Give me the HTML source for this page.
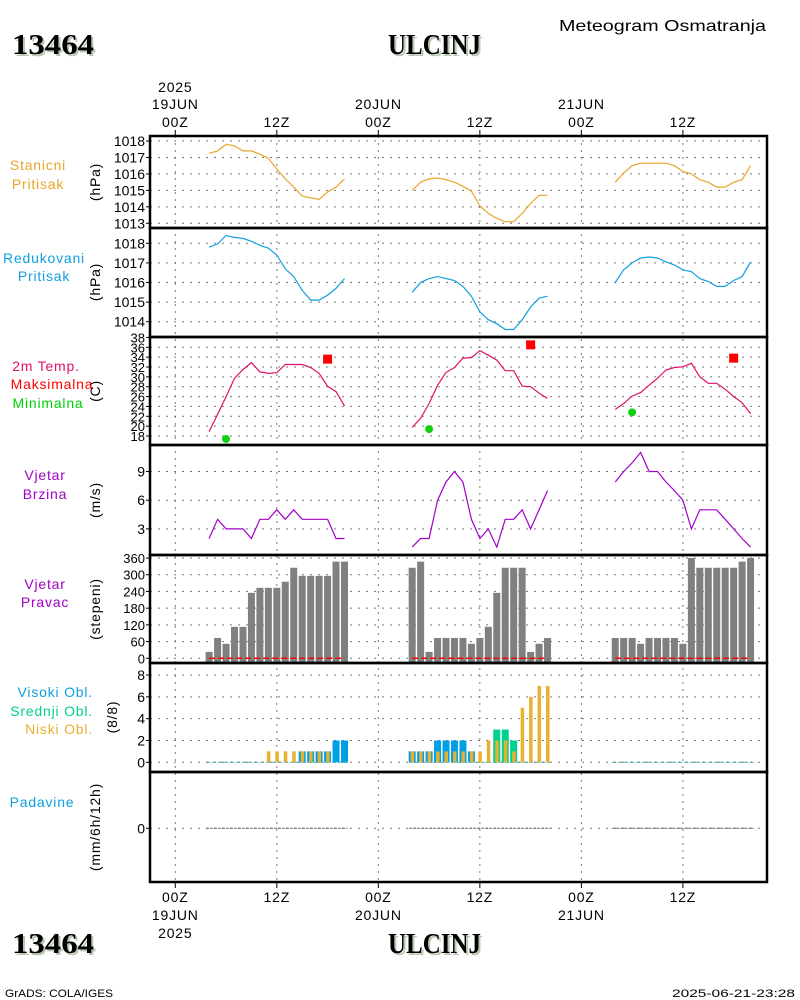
<!DOCTYPE html>
<html><head><meta charset="utf-8"><style>
html,body{margin:0;padding:0;background:#fff;}
svg{display:block;font-family:"Liberation Sans",sans-serif;}
.t{font-size:14px;}
.sm{font-size:12px;}
.big{font-family:"Liberation Serif",serif;font-weight:bold;font-size:29px;fill:#000;}
.lab{letter-spacing:0.8px;}
</style></head><body>
<svg id="c" width="800" height="1000" viewBox="0 0 800 1000" xmlns="http://www.w3.org/2000/svg">
<g>
<text x="559" y="31" class="t" textLength="207" lengthAdjust="spacingAndGlyphs" style="font-size:16px">Meteogram Osmatranja</text>
<text x="14" y="56" class="big" textLength="82" lengthAdjust="spacingAndGlyphs" style="fill:#b8c8b0">13464</text>
<text x="12" y="54" class="big" textLength="82" lengthAdjust="spacingAndGlyphs">13464</text>
<text x="390" y="56" class="big" textLength="93" lengthAdjust="spacingAndGlyphs" style="fill:#b8c8b0">ULCINJ</text>
<text x="388" y="54" class="big" textLength="93" lengthAdjust="spacingAndGlyphs">ULCINJ</text>
<text x="14" y="955" class="big" textLength="82" lengthAdjust="spacingAndGlyphs" style="fill:#b8c8b0">13464</text>
<text x="12" y="953" class="big" textLength="82" lengthAdjust="spacingAndGlyphs">13464</text>
<text x="390" y="955" class="big" textLength="93" lengthAdjust="spacingAndGlyphs" style="fill:#b8c8b0">ULCINJ</text>
<text x="388" y="953" class="big" textLength="93" lengthAdjust="spacingAndGlyphs">ULCINJ</text>
<text x="5" y="997" class="sm" textLength="108" lengthAdjust="spacingAndGlyphs" style="font-size:11px">GrADS: COLA/IGES</text>
<text x="672" y="997" class="sm" textLength="123" lengthAdjust="spacingAndGlyphs" style="font-size:11px">2025-06-21-23:28</text>
</g>
<g id="labels">
<text x="38" y="170" class="t lab" fill="#e8a52a" text-anchor="middle">Stanicni</text>
<text x="38" y="189" class="t lab" fill="#e8a52a" text-anchor="middle">Pritisak</text>
<text x="44" y="263" class="t lab" fill="#10a0e0" text-anchor="middle">Redukovani</text>
<text x="44" y="281" class="t lab" fill="#10a0e0" text-anchor="middle">Pritisak</text>
<text x="46" y="371" class="t lab" fill="#e0106a" text-anchor="middle">2m Temp.</text>
<text x="52" y="389" class="t lab" fill="#ff0000" text-anchor="middle">Maksimalna</text>
<text x="48" y="408" class="t lab" fill="#00d000" text-anchor="middle">Minimalna</text>
<text x="45" y="480" class="t lab" fill="#a000c8" text-anchor="middle">Vjetar</text>
<text x="45" y="499" class="t lab" fill="#a000c8" text-anchor="middle">Brzina</text>
<text x="45" y="589" class="t lab" fill="#a000c8" text-anchor="middle">Vjetar</text>
<text x="45" y="607" class="t lab" fill="#a000c8" text-anchor="middle">Pravac</text>
<text x="93" y="697" class="t lab" fill="#10a0e0" text-anchor="end">Visoki Obl.</text>
<text x="93" y="716" class="t lab" fill="#00d090" text-anchor="end">Srednji Obl.</text>
<text x="93" y="734" class="t lab" fill="#e8b030" text-anchor="end">Niski Obl.</text>
<text x="42" y="807" class="t lab" fill="#10a0e0" text-anchor="middle">Padavine</text>
</g>
<g id="grid"></g>
<g id="marks"></g>
<g id="frame"></g>
</svg>
<script>
// ---- data (hourly 04Z..20Z each day) ----
const hoursDay = [4,5,6,7,8,9,10,11,12,13,14,15,16,17,18,19,20];
const dayOffsets = [0,24,48];
const stPres1 = [1017.25,1017.4,1017.8,1017.7,1017.4,1017.4,1017.2,1016.95,1016.3,1015.7,1015.2,1014.65,1014.55,1014.45,1014.9,1015.2,1015.7];
const stPres2 = [1015.0,1015.5,1015.7,1015.75,1015.65,1015.5,1015.25,1014.95,1014.05,1013.6,1013.3,1013.1,1013.1,1013.6,1014.2,1014.7,1014.7];
const stPres3 = [1015.5,1016.05,1016.5,1016.65,1016.65,1016.65,1016.65,1016.5,1016.15,1016.0,1015.65,1015.5,1015.2,1015.2,1015.5,1015.65,1016.5];
const redPres1 = [1017.8,1017.97,1018.4,1018.3,1018.25,1018.1,1017.9,1017.75,1017.4,1016.7,1016.3,1015.6,1015.1,1015.1,1015.35,1015.7,1016.2];
const redPres2 = [1015.5,1016.0,1016.2,1016.3,1016.2,1016.1,1015.8,1015.3,1014.5,1014.1,1013.9,1013.6,1013.6,1014.1,1014.75,1015.2,1015.3];
const redPres3 = [1016.0,1016.65,1017.0,1017.25,1017.3,1017.25,1017.05,1016.9,1016.65,1016.55,1016.2,1016.05,1015.8,1015.8,1016.1,1016.3,1017.05];
const temp1 = [18.9,22.4,26.0,29.7,31.5,32.9,31.0,30.7,30.85,32.5,32.5,32.5,31.9,30.7,28.1,27.0,24.1];
const temp2 = [19.75,21.6,24.6,28.3,30.9,31.9,33.8,33.9,35.3,34.4,33.4,31.25,31.25,28.1,28.0,26.7,25.6];
const temp3 = [23.4,24.6,26.1,26.8,28.3,29.7,31.4,31.9,32.05,32.75,30.0,28.7,28.7,27.5,26.0,24.75,22.5];
const tmaxHour = [18,42,66];
const tmaxVal = [33.6,36.5,33.8];
const tminHour = [6,30,54];
const tminVal = [17.4,19.4,22.8];
const wspd1 = [2,4,3,3,3,2,4,4,5,4,5,4,4,4,4,2,2];
const wspd2 = [1.1,2,2,6,7.9,9,7.9,4,2,3,1.1,4,4,5,3,5,7];
const wspd3 = [7.9,9,9.9,11,9,9,7.9,7,6,3,5,5,5,4,3,2,1.1];
const wdir1 = [23,73,52,113,113,235,253,253,253,275,325,296,296,296,296,347,347];
const wdir2 = [325,347,23,73,73,73,73,52,73,113,235,325,325,325,23,52,73];
const wdir3 = [73,73,73,52,73,73,73,73,52,360,325,325,325,325,325,347,360];
const cLow1 = [0,0,0,0,0,0,0,1,1,1,1,1,1,1,1,0,0];
const cMid1 = [0,0,0,0,0,0,0,0,0,0,0,0,0,0,0,0,0];
const cHigh1 = [0,0,0,0,0,0,0,0,0,0,0,1,1,1,1,2,2];
const cLow2 = [1,1,1,1,1,1,1,1,1,2,2,2,1,5,6,7,7];
const cMid2 = [0,0,0,0,0,0,0,0,0,0,3,3,2,0,0,0,0];
const cHigh2 = [1,1,1,2,2,2,2,1,0,0,0,0,0,0,0,0,0];
const cLow3 = [0,0,0,0,0,0,0,0,0,0,0,0,0,0,0,0,0];
const cMid3 = [0,0,0,0,0,0,0,0,0,0,0,0,0,0,0,0,0];
const cHigh3 = [0,0,0,0,0,0,0,0,0,0,0,0,0,0,0,0,0];
const precip1 = [0,0,0,0,0,0,0,0,0,0,0,0,0,0,0,0,0];
const precip2 = [0,0,0,0,0,0,0,0,0,0,0,0,0,0,0,0,0];
const precip3 = [0,0,0,0,0,0,0,0,0,0,0,0,0,0,0,0,0];
const presTicks1 = [1013,1014,1015,1016,1017,1018];
const presTicks2 = [1014,1015,1016,1017,1018];
const tempTicks = [18,20,22,24,26,28,30,32,34,36,38];
const wspdTicks = [3,6,9];
const wdirTicks = [0,60,120,180,240,300,360];
const cloudTicks = [0,2,4,6,8];
const precipTicks = [0];
const timeTicks = [0,12,24,36,48,60];
const timeLabels = ['00Z','12Z','00Z','12Z','00Z','12Z'];
const dateLabels = ['19JUN','','20JUN','','21JUN',''];

// ---- scales ----
const X0=150, X1=767;
const xH = h => 175.3 + h*8.46;
const lin = (v0,y0,v1,y1) => v => y0 + (v-v0)*(y1-y0)/(v1-v0);
const yP1 = lin(1013,223.3,1018,141);
const yP2 = lin(1014,321.7,1018,243.3);
const yT = lin(18,436,36,347.3);
const yW = lin(0,557.6,9,471.5);
const yD = lin(0,658.3,360,558);
const yC = lin(0,762.3,8,675);
const yR = lin(0,828.3,1,818);
const panels = [[136,228],[228,337],[337,445],[445,555],[555,663],[663,772],[772,882]];

const NS='http://www.w3.org/2000/svg';
const G=document.getElementById('grid'), M=document.getElementById('marks'), F=document.getElementById('frame');
function mk(tag,attrs,parent){const e=document.createElementNS(NS,tag);for(const k in attrs)e.setAttribute(k,attrs[k]);parent.appendChild(e);return e;}

timeTicks.forEach((h,i)=>{
  const l=mk('line',{x1:xH(h),x2:xH(h),y1:136,y2:882,stroke:'#777','stroke-width':1,'stroke-dasharray':'2,5'},G);
  
  
  [[130,136],[882,888]].forEach(([a,b])=>{const t=mk('line',{x1:xH(h),x2:xH(h),y1:a,y2:b,stroke:'#000','stroke-width':1},G);
    
    });
  const tt=mk('text',{x:xH(h),y:127,'text-anchor':'middle',class:'t lab'},G); tt.textContent=timeLabels[i];
  
  
  const tb=mk('text',{x:xH(h),y:902,'text-anchor':'middle',class:'t lab'},G); tb.textContent=timeLabels[i];
  
  
  if(dateLabels[i]){
    const d1=mk('text',{x:xH(h),y:109,'text-anchor':'middle',class:'t lab'},G); d1.textContent=dateLabels[i];
    
    
    const d2=mk('text',{x:xH(h),y:920,'text-anchor':'middle',class:'t lab'},G); d2.textContent=dateLabels[i];
    
    
  }
});
const y1=mk('text',{x:xH(0),y:92,'text-anchor':'middle',class:'t lab'},G); y1.textContent='2025';


const y2=mk('text',{x:xH(0),y:938,'text-anchor':'middle',class:'t lab'},G); y2.textContent='2025';



function yaxis(ticks,scale,name,unit,ucx,ucy,fs){
  ticks.forEach(v=>{
    const y=scale(v);
    const g=mk('line',{x1:X0,x2:X1,y1:y,y2:y,stroke:'#777','stroke-width':1,'stroke-dasharray':'2,6'},G);
    
    
    const tk=mk('line',{x1:X0-4,x2:X0,y1:y,y2:y,stroke:'#000'},G);
    
    
    const t=mk('text',{x:X0-5,y:y+5,'text-anchor':'end',class:'t',style:fs?('font-size:'+fs+'px'):''},G); t.textContent=v;
    
    
  });
  const u=mk('text',{x:0,y:0,'text-anchor':'middle',class:'t lab',transform:'translate('+ucx+','+ucy+') rotate(-90)'},G); u.textContent=unit;
  
  
}
yaxis(presTicks1,yP1,'station-pressure','(hPa)',100,182);
yaxis(presTicks2,yP2,'reduced-pressure','(hPa)',100,282);
yaxis(tempTicks,yT,'temperature','(C)',100,391,13);
yaxis(wspdTicks,yW,'wind-speed','(m/s)',100,500);
yaxis(wdirTicks,yD,'wind-direction','(stepeni)',100,609,13);
yaxis(cloudTicks,yC,'cloud-cover','(8/8)',117,717);
yaxis(precipTicks,yR,'precipitation','(mm/6h/12h)',100,827);

function drawLine(arr,day,scale,color,name){
  const pts=arr.map((v,i)=>xH(dayOffsets[day]+hoursDay[i]).toFixed(1)+','+scale(v).toFixed(1)).join(' ');
  const p=mk('polyline',{points:pts,fill:'none',stroke:color,'stroke-width':1.2},M);
  
  
}
[stPres1,stPres2,stPres3].forEach((a,d)=>drawLine(a,d,yP1,'#e8a52a','station-pressure-line'));
[redPres1,redPres2,redPres3].forEach((a,d)=>drawLine(a,d,yP2,'#10a0e0','reduced-pressure-line'));
[temp1,temp2,temp3].forEach((a,d)=>drawLine(a,d,yT,'#e0106a','temperature-line'));
[wspd1,wspd2,wspd3].forEach((a,d)=>drawLine(a,d,yW,'#a000c8','wind-speed-line'));
tmaxVal.forEach((v,i)=>{const r=mk('rect',{x:xH(tmaxHour[i])-4.5,y:yT(v)-4.5,width:9,height:9,fill:'#f00'},M);
  
  });
tminVal.forEach((v,i)=>{const c=mk('circle',{cx:xH(tminHour[i]),cy:yT(v),r:4,fill:'#10d010'},M);
  
  });

[wdir1,wdir2,wdir3].forEach((a,d)=>{
  a.forEach((v,i)=>{const x=xH(dayOffsets[d]+hoursDay[i]);
    const r=mk('rect',{x:x-3.5,y:yD(v),width:7,height:663-yD(v),fill:'#808080'},M);
    
    });
  const xa=xH(dayOffsets[d]+hoursDay[0]), xb=xH(dayOffsets[d]+hoursDay[hoursDay.length-1]);
  const l=mk('line',{x1:xa,x2:xb,y1:yD(0),y2:yD(0),stroke:'#f00','stroke-width':1.5,'stroke-dasharray':'6,3'},M);
  
  
});

[[cHigh1,cMid1,cLow1],[cHigh2,cMid2,cLow2],[cHigh3,cMid3,cLow3]].forEach(([hi,mid,lo],d)=>{
  const xa=xH(dayOffsets[d]+hoursDay[0])-3, xb=xH(dayOffsets[d]+hoursDay[hoursDay.length-1])+3;
  const l=mk('line',{x1:xa,x2:xb,y1:yC(0),y2:yC(0),stroke:'#40a0a0','stroke-width':1,'stroke-dasharray':'4,2'},M);
  
  
  hoursDay.forEach((h,i)=>{const x=xH(dayOffsets[d]+h);
    if(hi[i]>0){const r=mk('rect',{x:x-3.5,y:yC(hi[i]),width:7,height:yC(0)-yC(hi[i]),fill:'#00a0e6'},M);
      
      }
    if(mid[i]>0){const r=mk('rect',{x:x-3.5,y:yC(mid[i]),width:7,height:yC(0)-yC(mid[i]),fill:'#00d090'},M);
      
      }
    if(lo[i]>0){const r=mk('rect',{x:x-1.5,y:yC(lo[i]),width:3.5,height:yC(0)-yC(lo[i]),fill:'#e8b030'},M);
      
      }
  });
});

[precip1,precip2,precip3].forEach((a,d)=>{
  const xa=xH(dayOffsets[d]+hoursDay[0])-3, xb=xH(dayOffsets[d]+hoursDay[hoursDay.length-1])+3;
  const l=mk('line',{x1:xa,x2:xb,y1:yR(0),y2:yR(0),stroke:'#666','stroke-width':1,'stroke-dasharray':'3,1'},M);
  
  
  a.forEach((v,i)=>{if(v>0){const x=xH(dayOffsets[d]+hoursDay[i]);
    const r=mk('rect',{x:x-3.5,y:yR(v),width:7,height:yR(0)-yR(v),fill:'#10a0e0'},M);
    
    }});
});

panels.forEach(([a,b])=>{const r=mk('rect',{x:X0,y:a,width:X1-X0,height:b-a,fill:'none',stroke:'#000','stroke-width':2.5},F);
  
  });
</script>
</body></html>
